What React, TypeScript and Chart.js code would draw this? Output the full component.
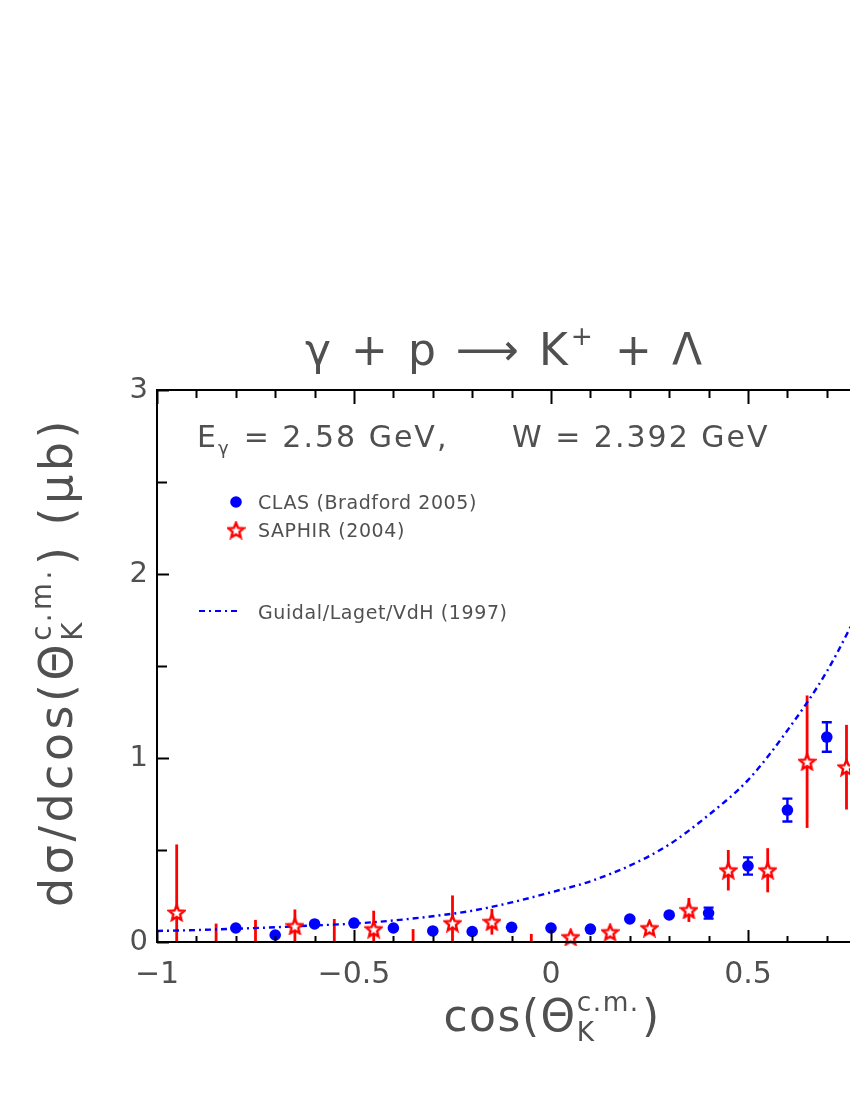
import React, { useEffect, useRef } from 'react';
import { Chart, registerables } from 'chart.js';

Chart.register(...registerables);

// CLAS (Bradford 2005)
const clasCos = [-0.8, -0.7, -0.6, -0.5, -0.4, -0.3, -0.2, -0.1, 0.0, 0.1, 0.2, 0.3, 0.4, 0.5, 0.6, 0.7];
const clasSigma = [0.076, 0.038, 0.098, 0.103, 0.076, 0.06, 0.057, 0.08, 0.076, 0.07, 0.125, 0.147, 0.157, 0.413, 0.717, 1.114];
const clasErr = [0.01, 0.01, 0.01, 0.01, 0.01, 0.01, 0.01, 0.01, 0.01, 0.01, 0.012, 0.015, 0.03, 0.047, 0.062, 0.08];

// SAPHIR (2004)
const saphirCos = [-0.95, -0.85, -0.75, -0.65, -0.55, -0.45, -0.35, -0.25, -0.15, -0.05, 0.05, 0.15, 0.25, 0.35, 0.45, 0.55, 0.65, 0.75];
const saphirSigma = [0.16, -0.08, -0.08, 0.087, -0.08, 0.07, -0.08, 0.103, 0.11, -0.08, 0.027, 0.054, 0.076, 0.174, 0.39, 0.39, 0.98, 0.95];
const saphirErr = [0.37, 0.18, 0.2, 0.09, 0.205, 0.1, 0.15, 0.15, 0.07, 0.124, 0.02, 0.02, 0.03, 0.065, 0.11, 0.12, 0.36, 0.23];

// Guidal/Laget/VdH (1997)
const modelCos = [-1, -0.9, -0.8, -0.7, -0.6, -0.5, -0.4, -0.3, -0.2, -0.1, 0.0, 0.1, 0.2, 0.3, 0.4, 0.5, 0.6, 0.7, 0.8];
const modelSigma = [0.06, 0.065, 0.072, 0.08, 0.09, 0.1, 0.117, 0.14, 0.17, 0.215, 0.27, 0.33, 0.415, 0.53, 0.69, 0.88, 1.15, 1.47, 1.88];

const xTickValues = [-1, -0.5, 0, 0.5, 1];
const yTickValues = [0, 1, 2, 3];

const BLUE = '#0000ff';
const RED = '#ff0000';
const TEXT = '#505050';
const FONT = '"DejaVu Sans", sans-serif';

type Seg = { t?: string; sub?: string; sup?: string };

function segWidth(ctx: CanvasRenderingContext2D, segs: Seg[], size: number) {
  let w = 0;
  for (const s of segs) {
    if (s.t) {
      ctx.font = `${size}px ${FONT}`;
      w += ctx.measureText(s.t).width;
    } else {
      ctx.font = `${size * 0.6}px ${FONT}`;
      const a = s.sub ? ctx.measureText(s.sub).width : 0;
      const b = s.sup ? ctx.measureText(s.sup).width : 0;
      w += Math.max(a, b) + size * 0.05;
    }
  }
  return w;
}

function drawRich(ctx: CanvasRenderingContext2D, segs: Seg[], x: number, y: number, size: number, center: boolean, spacing = 0) {
  (ctx as any).letterSpacing = `${spacing}px`;
  let cx = center ? x - segWidth(ctx, segs, size) / 2 : x;
  ctx.textAlign = 'left';
  ctx.textBaseline = 'alphabetic';
  for (const s of segs) {
    if (s.t) {
      ctx.font = `${size}px ${FONT}`;
      ctx.fillText(s.t, cx, y);
      cx += ctx.measureText(s.t).width;
    } else {
      ctx.font = `${size * 0.6}px ${FONT}`;
      let w = 0;
      if (s.sup) {
        ctx.fillText(s.sup, cx, y - size * 0.45);
        w = Math.max(w, ctx.measureText(s.sup).width);
      }
      if (s.sub) {
        ctx.fillText(s.sub, cx, y + size * 0.22);
        w = Math.max(w, ctx.measureText(s.sub).width);
      }
      cx += w + size * 0.05;
    }
  }
  (ctx as any).letterSpacing = '0px';
}

function makeStar(size: number) {
  const c = document.createElement('canvas');
  c.width = size;
  c.height = size;
  const g = c.getContext('2d')!;
  const cx = size / 2, cy = size / 2 + 0.8;
  const R = size / 2 - 1.5, r = R * 0.45;
  g.beginPath();
  for (let i = 0; i < 10; i++) {
    const ang = -Math.PI / 2 + (i * Math.PI) / 5;
    const rad = i % 2 === 0 ? R : r;
    const px = cx + rad * Math.cos(ang), py = cy + rad * Math.sin(ang);
    if (i === 0) g.moveTo(px, py); else g.lineTo(px, py);
  }
  g.closePath();
  g.fillStyle = '#ffffff';
  g.fill();
  g.strokeStyle = RED;
  g.lineWidth = 2.4;
  g.lineJoin = 'miter';
  g.stroke();
  return c;
}

export default function App() {
  const ref = useRef<HTMLCanvasElement | null>(null);

  useEffect(() => {
    const canvas = ref.current;
    if (!canvas) return;
    const star = makeStar(19);

    const errorBars = {
      id: 'errorBars',
      beforeDatasetsDraw(chart: any) {
        const { ctx, chartArea: a, scales } = chart;
        const x = scales.x, y = scales.y;
        ctx.save();
        ctx.beginPath();
        ctx.rect(a.left, a.top, a.right - a.left, a.bottom - a.top);
        ctx.clip();
        ctx.strokeStyle = RED;
        ctx.lineWidth = 2.8;
        saphirCos.forEach((c, i) => {
          const px = x.getPixelForValue(c);
          ctx.beginPath();
          ctx.moveTo(px, y.getPixelForValue(saphirSigma[i] - saphirErr[i]));
          ctx.lineTo(px, y.getPixelForValue(saphirSigma[i] + saphirErr[i]));
          ctx.stroke();
        });
        ctx.strokeStyle = BLUE;
        ctx.lineWidth = 2.4;
        clasCos.forEach((c, i) => {
          const px = x.getPixelForValue(c);
          const t = y.getPixelForValue(clasSigma[i] + clasErr[i]);
          const b = y.getPixelForValue(clasSigma[i] - clasErr[i]);
          ctx.beginPath();
          ctx.moveTo(px, b);
          ctx.lineTo(px, t);
          if (clasErr[i] >= 0.025) {
            ctx.moveTo(px - 5, t);
            ctx.lineTo(px + 5, t);
            ctx.moveTo(px - 5, b);
            ctx.lineTo(px + 5, b);
          }
          ctx.stroke();
        });
        ctx.restore();
      },
    };

    const decor = {
      id: 'decor',
      afterDraw(chart: any) {
        const { ctx, chartArea: a, scales } = chart;
        const x = scales.x, y = scales.y;
        ctx.save();
        ctx.strokeStyle = '#000';
        ctx.lineWidth = 2;
        ctx.strokeRect(a.left, a.top, a.right - a.left, a.bottom - a.top);
        for (let i = 0; i <= 20; i++) {
          const v = -1 + i * 0.1;
          const px = Math.round(x.getPixelForValue(v)) + 0.5;
          const major = i % 5 === 0;
          ctx.beginPath();
          ctx.moveTo(px, a.bottom);
          ctx.lineTo(px, a.bottom - (major ? 12 : 6));
          ctx.moveTo(px, a.top);
          ctx.lineTo(px, a.top + (major ? 14 : 8));
          ctx.stroke();
        }
        for (let i = 0; i <= 6; i++) {
          const v = i * 0.5;
          const py = Math.round(y.getPixelForValue(v)) + 0.5;
          const major = i % 2 === 0;
          ctx.beginPath();
          ctx.moveTo(a.left, py);
          ctx.lineTo(a.left + (major ? 12 : 10), py);
          ctx.moveTo(a.right, py);
          ctx.lineTo(a.right - (major ? 12 : 10), py);
          ctx.stroke();
        }

        ctx.fillStyle = TEXT;
        drawRich(ctx, [{ t: 'γ + p ⟶ K' }, { sup: '+' }, { t: ' + Λ' }], 505, 365, 44, true, 3);
        drawRich(ctx, [{ t: 'E' }, { sub: 'γ' }, { t: ' = 2.58 GeV,' }], 197, 447, 30, false, 2);
        drawRich(ctx, [{ t: 'W = 2.392 GeV' }], 512, 447, 30, false, 2);
        drawRich(ctx, [{ t: 'cos(Θ' }, { sub: 'K', sup: 'c.m.' }, { t: ')' }], 552, 1031, 44, true, 1.5);
        ctx.save();
        ctx.translate(55, 662);
        ctx.rotate(-Math.PI / 2);
        drawRich(ctx, [{ t: 'dσ/dcos(Θ' }, { sub: 'K', sup: 'c.m.' }, { t: ') (μb)' }], 0, 17, 46, true, 3.5);
        ctx.restore();

        ctx.fillStyle = BLUE;
        ctx.beginPath();
        ctx.arc(236, 502, 5.8, 0, Math.PI * 2);
        ctx.fill();
        ctx.drawImage(star, 236 - star.width / 2, 530 - star.height / 2);
        ctx.strokeStyle = BLUE;
        ctx.lineWidth = 2.2;
        ctx.setLineDash([6, 4, 2, 4]);
        ctx.beginPath();
        ctx.moveTo(199, 611);
        ctx.lineTo(238, 611);
        ctx.stroke();
        ctx.setLineDash([]);
        ctx.fillStyle = TEXT;
        drawRich(ctx, [{ t: 'CLAS (Bradford 2005)' }], 258, 509, 19, false, 0.6);
        drawRich(ctx, [{ t: 'SAPHIR (2004)' }], 258, 537, 19, false, 0.6);
        drawRich(ctx, [{ t: 'Guidal/Laget/VdH (1997)' }], 258, 619, 19, false, 0.6);
        ctx.restore();
      },
    };

    const chart = new Chart(canvas, {
      type: 'scatter',
      data: {
        datasets: [
          {
            label: 'Guidal/Laget/VdH (1997)',
            data: modelCos.map((c, i) => ({ x: c, y: modelSigma[i] })),
            showLine: true,
            borderColor: BLUE,
            borderWidth: 2.4,
            borderDash: [6, 4, 2, 4],
            pointRadius: 0,
            fill: false,
            cubicInterpolationMode: 'monotone',
            clip: 0,
            order: 3,
          } as any,
          {
            label: 'CLAS (Bradford 2005)',
            data: clasCos.map((c, i) => ({ x: c, y: clasSigma[i] })),
            pointStyle: 'circle',
            pointRadius: 5.8,
            backgroundColor: BLUE,
            borderColor: BLUE,
            borderWidth: 0,
            clip: { left: 0, top: 0, right: 0, bottom: 4 },
            order: 2,
          } as any,
          {
            label: 'SAPHIR (2004)',
            data: saphirCos.map((c, i) => ({ x: c, y: saphirSigma[i] })),
            pointStyle: star,
            pointRadius: 9,
            clip: { left: 0, top: 0, right: 0, bottom: 4 },
            order: 1,
          } as any,
        ],
      },
      options: {
        responsive: false,
        animation: false,
        devicePixelRatio: 1,
        layout: { padding: { left: 0, right: 65, top: 390, bottom: 78 } },
        plugins: {
          legend: { display: false },
          tooltip: { enabled: false },
          title: { display: false },
        },
        scales: {
          x: {
            type: 'linear',
            min: -1,
            max: 1,
            afterFit: (s: any) => { s.height = 80; },
            afterBuildTicks: (s: any) => { s.ticks = xTickValues.map((v) => ({ value: v })); },
            grid: { display: false, drawTicks: false },
            border: { display: false },
            ticks: {
              padding: 15,
              color: TEXT,
              font: { size: 30, family: FONT },
              autoSkip: false,
              maxRotation: 0,
              callback: (v: any) => String(Number(v)).replace('-', '−'),
            },
          },
          y: {
            type: 'linear',
            min: 0,
            max: 3,
            afterFit: (s: any) => { s.width = 157; },
            afterBuildTicks: (s: any) => { s.ticks = yTickValues.map((v) => ({ value: v })); },
            grid: { display: false, drawTicks: false },
            border: { display: false },
            ticks: {
              padding: 9,
              color: TEXT,
              font: { size: 29, family: FONT },
              callback: (v: any) => String(Number(v)),
            },
          },
        },
      } as any,
      plugins: [errorBars, decor],
    });

    return () => chart.destroy();
  }, []);

  return (
    <div style={{ position: 'fixed', left: 0, top: 0, width: 850, height: 1100, overflow: 'hidden', background: '#fff' }}>
      <canvas ref={ref} width={1010} height={1100} style={{ width: 1010, height: 1100, display: 'block' }} />
    </div>
  );
}
